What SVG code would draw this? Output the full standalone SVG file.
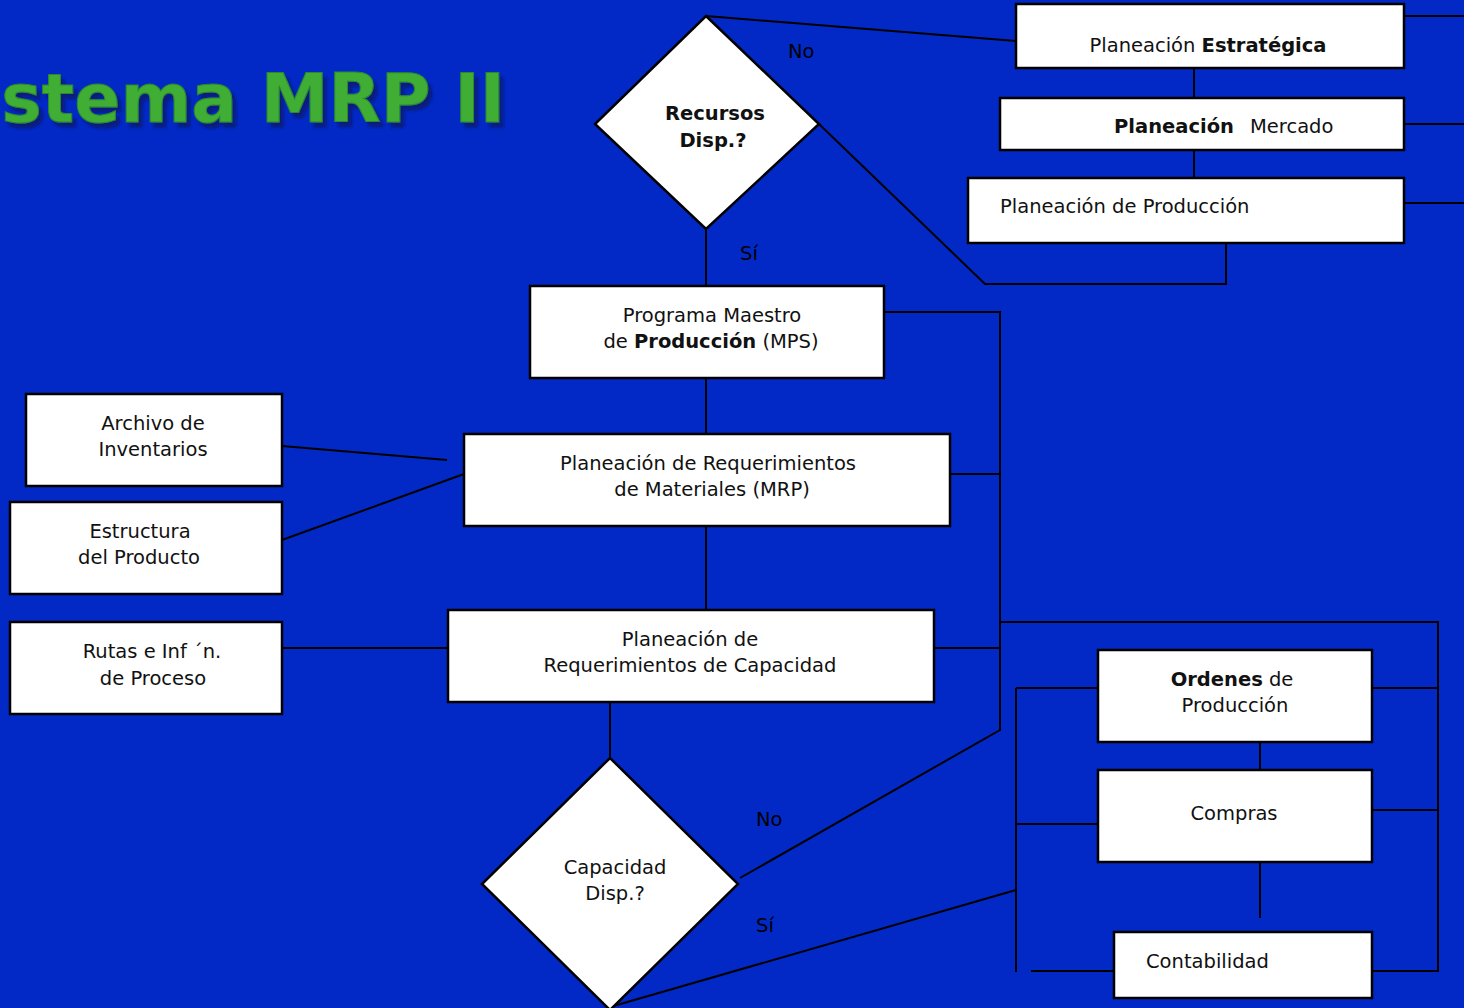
<svg xmlns="http://www.w3.org/2000/svg" width="1464" height="1008" viewBox="0 0 1464 1008">
  <defs>
    <style>
      .bg { fill: #0229c6; }
      .box { fill: #ffffff; stroke: #000000; stroke-width: 2.5; }
      .conn { fill: none; stroke: #000000; stroke-width: 2; }
      .t { font-family: "DejaVu Sans", "Liberation Sans", sans-serif; font-size: 19.5px; fill: #111111; }
      .c { text-anchor: middle; }
      .b { font-weight: bold; }
      .lbl { font-family: "DejaVu Sans", "Liberation Sans", sans-serif; font-size: 19.5px; fill: #000000; }
      .title { font-family: "DejaVu Sans", "Liberation Sans", sans-serif; font-weight: bold; font-size: 68px; text-anchor: end; }
    </style>
    <filter id="shadow" x="-5%" y="-20%" width="115%" height="150%">
      <feOffset in="SourceAlpha" dx="4" dy="5" result="off"/>
      <feGaussianBlur in="off" stdDeviation="1.5" result="blur"/>
      <feFlood flood-color="#0a1a70" flood-opacity="0.85"/>
      <feComposite in2="blur" operator="in" result="sh"/>
      <feMerge>
        <feMergeNode in="sh"/>
        <feMergeNode in="SourceGraphic"/>
      </feMerge>
    </filter>
  </defs>

  <!-- background -->
  <rect class="bg" x="0" y="0" width="1464" height="1008"/>

  <!-- heading, running off the left edge -->
  <g id="title">
    <text class="title" x="505" y="122" fill="#3fae34" stroke="#2b8a2a" stroke-width="1" filter="url(#shadow)">stema MRP II</text>
  </g>

  <!-- connectors -->
  <g id="connectors">
    <!-- top-right planning column -->
    <line class="conn" x1="706" y1="16" x2="1016" y2="41"/>
    <line class="conn" x1="1194" y1="68" x2="1194" y2="98"/>
    <line class="conn" x1="1194" y1="150" x2="1194" y2="178"/>
    <line class="conn" x1="1404" y1="16" x2="1464" y2="16"/>
    <line class="conn" x1="1404" y1="124" x2="1464" y2="124"/>
    <line class="conn" x1="1404" y1="203" x2="1464" y2="203"/>
    <polyline class="conn" points="819,124 985,284 1226,284 1226,243"/>
    <!-- main spine -->
    <line class="conn" x1="706" y1="229" x2="706" y2="286"/>
    <line class="conn" x1="706" y1="378" x2="706" y2="434"/>
    <line class="conn" x1="706" y1="526" x2="706" y2="610"/>
    <line class="conn" x1="610" y1="702" x2="610" y2="770"/>
    <!-- feedback bus on the right of the spine -->
    <polyline class="conn" points="884,312 1000,312 1000,730 740,878"/>
    <line class="conn" x1="950" y1="474" x2="1000" y2="474"/>
    <line class="conn" x1="934" y1="648" x2="1000" y2="648"/>
    <!-- inputs on the left -->
    <line class="conn" x1="282" y1="446" x2="447" y2="460"/>
    <line class="conn" x1="282" y1="540" x2="464" y2="474"/>
    <line class="conn" x1="282" y1="648" x2="448" y2="648"/>
    <!-- execution block -->
    <polyline class="conn" points="1000,622 1438,622 1438,971 1372,971"/>
    <line class="conn" x1="1372" y1="688" x2="1438" y2="688"/>
    <line class="conn" x1="1372" y1="810" x2="1438" y2="810"/>
    <line class="conn" x1="1016" y1="688" x2="1016" y2="972"/>
    <line class="conn" x1="1016" y1="688" x2="1098" y2="688"/>
    <line class="conn" x1="1016" y1="824" x2="1098" y2="824"/>
    <line class="conn" x1="1031" y1="971" x2="1114" y2="971"/>
    <line class="conn" x1="1260" y1="742" x2="1260" y2="770"/>
    <line class="conn" x1="1260" y1="862" x2="1260" y2="918"/>
    <line class="conn" x1="610" y1="1007" x2="1016" y2="890"/>
  </g>

  <!-- branch labels -->
  <g id="labels">
    <text class="lbl" x="788" y="58">No</text>
    <text class="lbl" x="740" y="260">Sí</text>
    <text class="lbl" x="756" y="826">No</text>
    <text class="lbl" x="756" y="932">Sí</text>
  </g>

  <g id="estrategica">
    <rect class="box" x="1016" y="4" width="388" height="64"/>
    <text class="t c" x="1208" y="52">Planeación <tspan class="b">Estratégica</tspan></text>
  </g>

  <g id="mercado">
    <rect class="box" x="1000" y="98" width="404" height="52"/>
    <text class="t" y="133"><tspan class="b" x="1114">Planeación</tspan><tspan x="1250">Mercado</tspan></text>
  </g>

  <g id="produccion">
    <rect class="box" x="968" y="178" width="436" height="65"/>
    <text class="t" x="1000" y="213">Planeación de Producción</text>
  </g>

  <g id="recursos">
    <polygon class="box" points="706,16 819,124 706,229 595,124"/>
    <text class="t c b" x="715" y="120">Recursos</text>
    <text class="t c b" x="713" y="147">Disp.?</text>
  </g>

  <g id="mps">
    <rect class="box" x="530" y="286" width="354" height="92"/>
    <text class="t c" x="712" y="322">Programa Maestro</text>
    <text class="t c" x="711" y="348">de <tspan class="b">Producción</tspan> (MPS)</text>
  </g>

  <g id="mrp">
    <rect class="box" x="464" y="434" width="486" height="92"/>
    <text class="t c" x="708" y="470">Planeación de Requerimientos</text>
    <text class="t c" x="712" y="496">de Materiales (MRP)</text>
  </g>

  <g id="inventarios">
    <rect class="box" x="26" y="394" width="256" height="92"/>
    <text class="t c" x="153" y="430">Archivo de</text>
    <text class="t c" x="153" y="456">Inventarios</text>
  </g>

  <g id="estructura">
    <rect class="box" x="10" y="502" width="272" height="92"/>
    <text class="t c" x="140" y="538">Estructura</text>
    <text class="t c" x="139" y="564">del Producto</text>
  </g>

  <g id="rutas">
    <rect class="box" x="10" y="622" width="272" height="92"/>
    <text class="t c" x="152" y="658">Rutas e Inf ´n.</text>
    <text class="t c" x="153" y="685">de Proceso</text>
  </g>

  <g id="crp">
    <rect class="box" x="448" y="610" width="486" height="92"/>
    <text class="t c" x="690" y="646">Planeación de</text>
    <text class="t c" x="690" y="672">Requerimientos de Capacidad</text>
  </g>

  <g id="capacidad">
    <polygon class="box" points="610,758 738,884 610,1010 482,884"/>
    <text class="t c" x="615" y="874">Capacidad</text>
    <text class="t c" x="615" y="900">Disp.?</text>
  </g>

  <g id="ordenes">
    <rect class="box" x="1098" y="650" width="274" height="92"/>
    <text class="t c" x="1232" y="686"><tspan class="b">Ordenes</tspan> de</text>
    <text class="t c" x="1235" y="712">Producción</text>
  </g>

  <g id="compras">
    <rect class="box" x="1098" y="770" width="274" height="92"/>
    <text class="t c" x="1234" y="820">Compras</text>
  </g>

  <g id="contabilidad">
    <rect class="box" x="1114" y="932" width="258" height="66"/>
    <text class="t" x="1146" y="968">Contabilidad</text>
  </g>
</svg>
